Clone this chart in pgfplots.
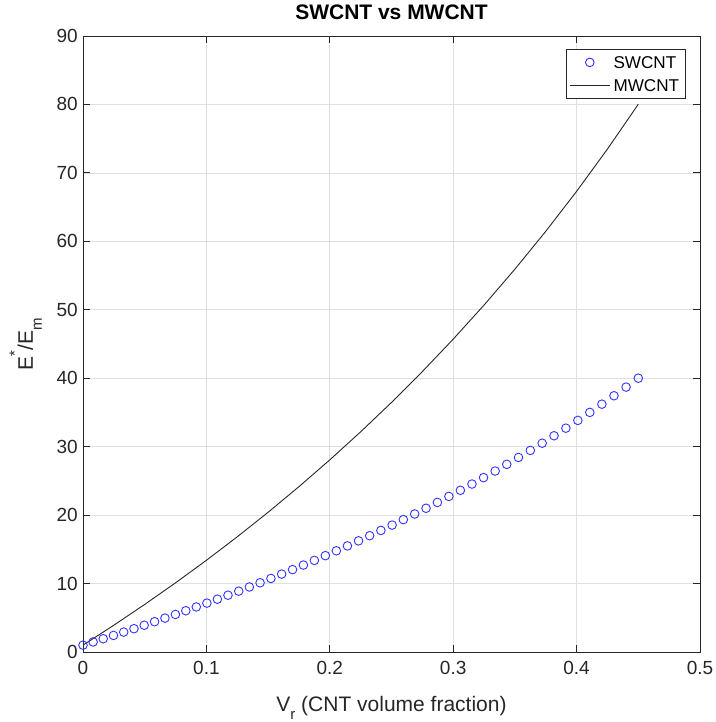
\documentclass[border=0pt]{standalone}
\usepackage{fontspec}
\setmainfont{Liberation Sans}
\usepackage{pgfplots}
\usepackage{pgfplotstable}
\pgfplotsset{compat=1.18}

\definecolor{axgray}{HTML}{262626}
\definecolor{gridgray}{HTML}{DFDFDF}

% lowered / raised small letters in the axis labels
\newcommand{\lowsub}[1]{\raisebox{-0.42em}{\fontsize{15}{15}\selectfont #1}}
\newcommand{\highsup}[1]{\raisebox{0.62em}{\fontsize{15}{15}\selectfont #1}}

% SWCNT: normalised modulus against volume fraction
\pgfplotstableread{
vr      ratio
0.0000  1.000
0.0082  1.466
0.0164  1.939
0.0247  2.420
0.0330  2.910
0.0413  3.407
0.0496  3.914
0.0580  4.429
0.0664  4.953
0.0749  5.486
0.0833  6.029
0.0918  6.581
0.1004  7.144
0.1089  7.716
0.1175  8.299
0.1262  8.894
0.1348  9.499
0.1435  10.116
0.1523  10.744
0.1610  11.385
0.1698  12.038
0.1786  12.704
0.1875  13.383
0.1964  14.076
0.2053  14.783
0.2143  15.504
0.2233  16.241
0.2323  16.993
0.2414  17.760
0.2505  18.544
0.2596  19.345
0.2688  20.164
0.2780  21.001
0.2872  21.856
0.2965  22.731
0.3058  23.625
0.3152  24.540
0.3246  25.477
0.3340  26.436
0.3434  27.418
0.3529  28.423
0.3625  29.453
0.3721  30.509
0.3817  31.591
0.3913  32.701
0.4010  33.840
0.4107  35.008
0.4205  36.207
0.4303  37.439
0.4401  38.703
0.4500  40.003
}\swcnt

% MWCNT: normalised modulus against volume fraction
\pgfplotstableread{
vr      ratio
0.000   1.000
0.025   3.916
0.050   6.949
0.075   10.108
0.100   13.398
0.125   16.830
0.150   20.413
0.175   24.156
0.200   28.071
0.225   32.170
0.250   36.465
0.275   40.972
0.300   45.707
0.325   50.687
0.350   55.931
0.375   61.463
0.400   67.304
0.425   73.484
0.450   80.031
}\mwcnt

\begin{document}
\begin{tikzpicture}
\begin{axis}[
  scale only axis,
  width=617pt, height=616pt,
  xmin=0, xmax=0.5, ymin=0, ymax=90,
  xtick={0,0.1,0.2,0.3,0.4,0.5},
  xticklabels={0,0.1,0.2,0.3,0.4,0.5},
  ytick={0,10,20,30,40,50,60,70,80,90},
  yticklabels={0,10,20,30,40,50,60,70,80,90},
  grid=major,
  major grid style={gridgray, line width=0.7pt},
  axis line style={axgray, line width=0.9pt},
  tick style={axgray, line width=0.9pt},
  major tick length=6.7pt,
  tick align=inside,
  /pgf/number format/assume math mode=true,
  ticklabel style={font=\fontsize{19}{22}\selectfont, text=axgray},
  xticklabel style={yshift=-6pt},
  yticklabel style={xshift=-1.7pt},
  title={\textbf{SWCNT vs MWCNT}},
  title style={font=\fontsize{21}{24}\selectfont, at={(0.5,1)}, anchor=base, yshift=10pt},
  xlabel={V\lowsub{r} (CNT volume fraction)},
  xlabel style={font=\fontsize{21}{24}\selectfont, text=axgray, at={(0.5,0)}, anchor=base, yshift=-59pt},
  ylabel={E\highsup{*}/E\lowsub{m}},
  ylabel style={font=\fontsize{21}{24}\selectfont, text=axgray, at={(0,0.5)}, anchor=base, yshift=50pt},
  legend style={at={(1,1)}, anchor=north east, xshift=-14pt, yshift=-13pt,
    draw=axgray, line width=0.7pt, fill=white,
    font=\fontsize{17.1}{20}\selectfont,
    inner xsep=3.3pt, inner ysep=1.7pt, row sep=0pt,
    nodes={inner xsep=3.3pt, inner ysep=5.2pt, text height=12.3pt, text depth=0pt}},
  legend cell align=left,
  legend image code/.code={\draw[mark repeat=2,mark phase=2,#1] plot coordinates {(0pt,0pt) (20pt,0pt) (40pt,0pt)};},
]
\addplot[blue!80!white, only marks, mark=o, mark size=4.3pt, line width=0.9pt] table[x=vr, y=ratio] {\swcnt};
\addlegendentry{SWCNT}
\addplot[black!85, no markers, line width=0.9pt] table[x=vr, y=ratio] {\mwcnt};
\addlegendentry{MWCNT}
\end{axis}
\pgfresetboundingbox
\path[use as bounding box] (-83pt,-70pt) rectangle (632pt,652pt);
\end{tikzpicture}
\end{document}
